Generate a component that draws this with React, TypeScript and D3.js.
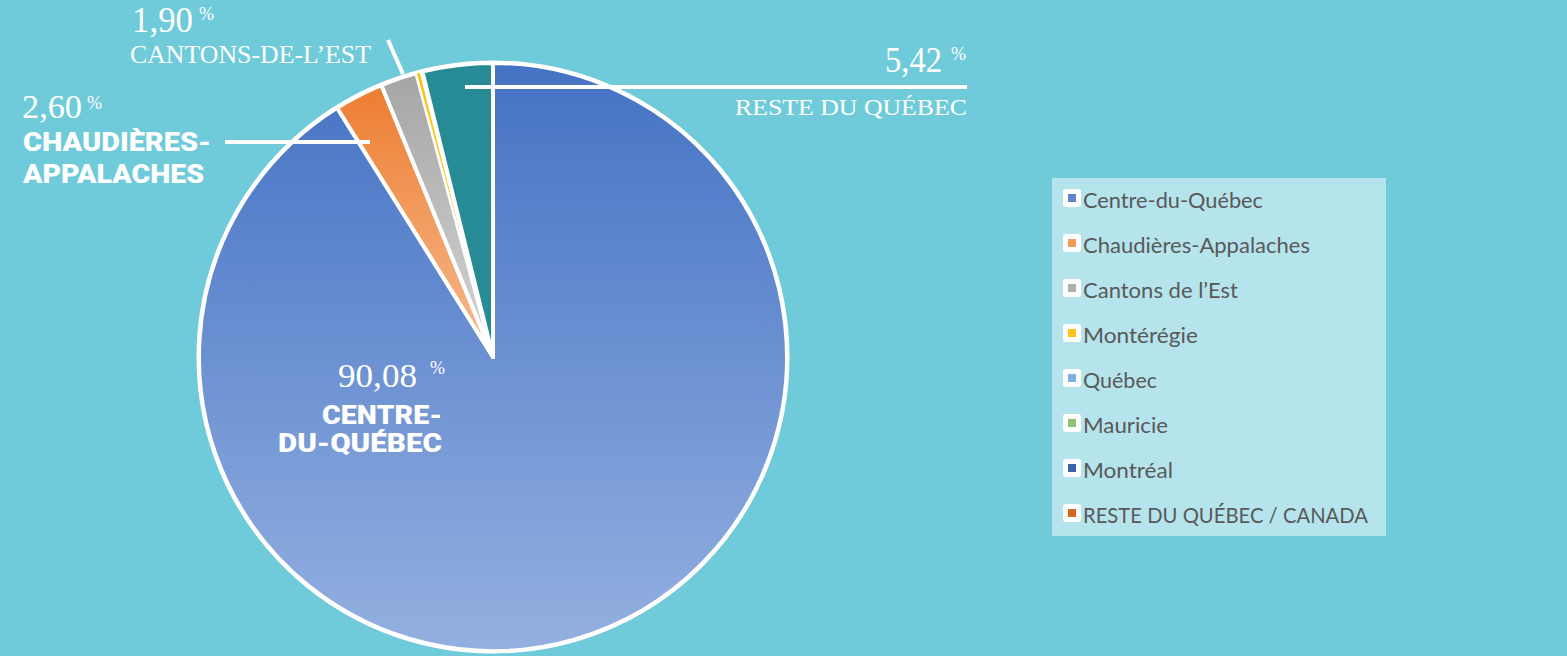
import React from 'react';
import * as d3 from 'd3';

// ---- data ----
const categories = [
  'Centre-du-Québec',
  'Chaudières-Appalaches',
  'Cantons de l’Est',
  'Montérégie',
  'Québec',
  'Mauricie',
  'Montréal',
  'RESTE DU QUÉBEC / CANADA',
];
// slice shares as drawn in the picture (%)
const shares = [91.1, 2.7, 2.0, 0.22, 0.06, 0.03, 0.03, 3.86];
const sliceTop = ['#4472c4', '#ed7d31', '#a5a5a5', '#ffc000', '#5b9bd5', '#70ad47', '#264478', '#268b95'];
const sliceBottom = ['#94b0e0', '#f7bb8f', '#d6d6d6', '#ffe08a', '#a9cbea', '#a9d18e', '#4a6fa5', '#268b95'];
const legendColors = ['#5f84cc', '#f29a5c', '#b0b0b0', '#ffc21a', '#7eb1e2', '#8fc173', '#3a63a8', '#d56a1e'];

// annotation texts
const valueLabels = ['90,08', '2,60', '1,90', '5,42'];
const nameLabels = [['CENTRE-', 'DU-QUÉBEC'], ['CHAUDIÈRES-', 'APPALACHES'], ['CANTONS-DE-L’EST'], ['RESTE DU QUÉBEC']];

const W = 1567;
const H = 656;
const BG = '#6fcbd9';

export default function App() {
  const cx = 493;
  const cy = 357;
  const r = 294;

  const pie = d3.pie<number>().sort(null).value((d) => d).startAngle(0).endAngle(2 * Math.PI);
  const arcs = pie(shares);
  const arcGen = d3.arc<d3.PieArcDatum<number>>().innerRadius(0).outerRadius(r);

  const serif = '"Liberation Serif", "DejaVu Serif", serif';
  const bold = 'Roboto, "Open Sans", sans-serif';
  const legendFont = 'Lato, "Open Sans", sans-serif';

  const legendX = 1052;
  const legendY = 178;
  const legendW = 334;
  const legendH = 358;
  const legendBase0 = 208;
  const legendStep = 45;
  const legendWidths = [180, 227, 155, 115, 74, 85, 90, 285];

  return (
    <svg width={W} height={H} style={{ position: 'absolute', left: 0, top: 0 }}>
      <defs>
        {sliceTop.map((c, i) => (
          <linearGradient key={i} id={`g${i}`} x1="0" y1="0" x2="0" y2="1">
            <stop offset="0" stopColor={c} />
            <stop offset="1" stopColor={sliceBottom[i]} />
          </linearGradient>
        ))}
      </defs>
      <rect x={0} y={0} width={W} height={H} fill={BG} />

      {/* pie */}
      <g transform={`translate(${cx},${cy})`}>
        <circle r={r} fill="none" stroke="#fff" strokeWidth={5} />
        {arcs.map((a, i) => (
          <path
            key={i}
            d={arcGen(a) || ''}
            fill={`url(#g${i})`}
            stroke="#fff"
            strokeWidth={i >= 3 && i <= 6 ? 1.2 : 4}
            strokeLinejoin="round"
          />
        ))}
      </g>

      {/* leader lines */}
      <g stroke="#fff" strokeWidth={4} strokeLinecap="butt">
        <line x1={465} y1={87} x2={967} y2={87} />
        <line x1={225} y1={142} x2={370} y2={142} />
        <line x1={388} y1={40} x2={403} y2={74} />
      </g>

      {/* annotations */}
      <g fill="#fff">
        {/* Cantons */}
        <text x={132} y={32} fontFamily={serif} fontSize={35} textLength={61} lengthAdjust="spacingAndGlyphs">{valueLabels[2]}</text>
        <text x={199} y={20} fontFamily={serif} fontSize={18}>%</text>
        <text x={130} y={63} fontFamily={serif} fontSize={26} textLength={241} lengthAdjust="spacingAndGlyphs">{nameLabels[2][0]}</text>

        {/* Chaudières */}
        <text x={22} y={118} fontFamily={serif} fontSize={33} textLength={60} lengthAdjust="spacingAndGlyphs">{valueLabels[1]}</text>
        <text x={87} y={109} fontFamily={serif} fontSize={18}>%</text>
        <text x={23} y={151} fontFamily={bold} fontWeight={900} fontSize={25} textLength={188} lengthAdjust="spacingAndGlyphs">{nameLabels[1][0]}</text>
        <text x={23} y={183} fontFamily={bold} fontWeight={900} fontSize={25} textLength={181} lengthAdjust="spacingAndGlyphs">{nameLabels[1][1]}</text>

        {/* Reste */}
        <text x={885} y={72} fontFamily={serif} fontSize={36} textLength={57} lengthAdjust="spacingAndGlyphs">{valueLabels[3]}</text>
        <text x={951} y={60} fontFamily={serif} fontSize={18}>%</text>
        <text x={735} y={115} fontFamily={serif} fontSize={24} textLength={232} lengthAdjust="spacingAndGlyphs">{nameLabels[3][0]}</text>

        {/* Centre */}
        <text x={338} y={387} fontFamily={serif} fontSize={34} textLength={79} lengthAdjust="spacingAndGlyphs">{valueLabels[0]}</text>
        <text x={430} y={374} fontFamily={serif} fontSize={18}>%</text>
        <text x={322} y={424} fontFamily={bold} fontWeight={900} fontSize={26} textLength={120} lengthAdjust="spacingAndGlyphs">{nameLabels[0][0]}</text>
        <text x={278} y={452} fontFamily={bold} fontWeight={900} fontSize={26} textLength={164} lengthAdjust="spacingAndGlyphs">{nameLabels[0][1]}</text>
      </g>

      {/* legend */}
      <rect x={legendX} y={legendY} width={legendW} height={legendH} fill="#b5e4ed" />
      {categories.map((c, i) => {
        const base = legendBase0 + i * legendStep;
        return (
          <g key={c}>
            <rect x={1063} y={base - 19} width={18} height={18} rx={3} fill="#fff" />
            <rect x={1068} y={base - 14} width={8} height={8} fill={legendColors[i]} />
            <text
              x={1083}
              y={base}
              fontFamily={legendFont}
              fontSize={22}
              fill="#595959"
              textLength={legendWidths[i]}
              lengthAdjust="spacingAndGlyphs"
            >
              {c}
            </text>
          </g>
        );
      })}
    </svg>
  );
}
